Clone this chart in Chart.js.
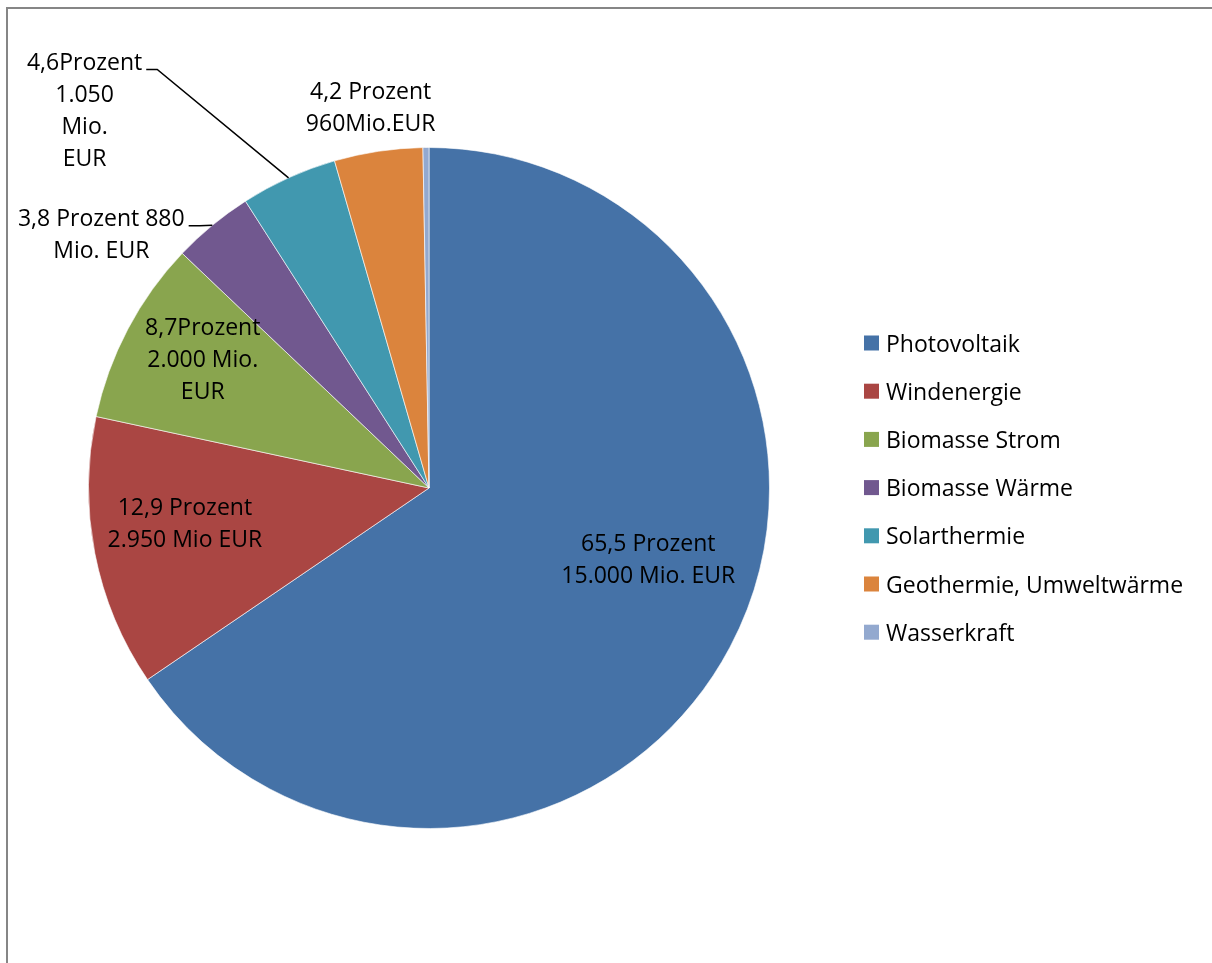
<!DOCTYPE html>
<html>
<head>
<meta charset="utf-8">
<script src="https://cdn.jsdelivr.net/npm/chart.js@4"></script>
<style>
    html, body { margin: 0; padding: 0; background: #fff; }
    #wrap { width: 1212px; height: 963px; }
</style>
</head>
<body>
<div id="wrap"><canvas id="pieChart" width="1212" height="963"></canvas></div>
<script>
// Data (Mio. EUR)
const categories = ['Photovoltaik', 'Windenergie', 'Biomasse Strom', 'Biomasse Wärme', 'Solarthermie', 'Geothermie, Umweltwärme', 'Wasserkraft'];
const investments = [15000, 2950, 2000, 880, 1050, 960, 65];
const sliceLabels = [
    ['65,5 Prozent', '15.000 Mio. EUR'],
    ['12,9 Prozent', '2.950 Mio EUR'],
    ['8,7Prozent', '2.000 Mio.', 'EUR'],
    ['3,8 Prozent 880', 'Mio. EUR'],
    ['4,6Prozent', '1.050', 'Mio.', 'EUR'],
    ['4,2 Prozent', '960Mio.EUR'],
    []
];
const colors = ['#4572A7', '#AA4643', '#89A54E', '#71588F', '#4198AF', '#DB843D', '#93A9CF'];

// label placement: angle (deg, clockwise from top) and distance in pie radii
const labelAngle = [107.7, 262, 299.7, 307.8, 317.7, 351.3, 0];
const labelDist = [0.676, 0.724, 0.765, 1.218, 1.503, 1.133, 0];
const hasLeader = [false, false, false, true, true, false, false];

const FONT = '23px "Open Sans"';
const LINE_H = 32;
const TEXT_SHIFT = 2; // Open Sans sits a bit high with 'middle' baseline

const frameAndLabels = {
    id: 'frameAndLabels',
    beforeDraw(chart) {
        const ctx = chart.ctx;
        ctx.save();
        ctx.fillStyle = '#fff';
        ctx.fillRect(0, 0, chart.width, chart.height);
        ctx.fillStyle = '#868686';
        ctx.fillRect(6, 7, chart.width - 6, 2);
        ctx.fillRect(6, 7, 2, chart.height - 7);
        ctx.restore();
    },
    afterDraw(chart) {
        const ctx = chart.ctx;
        const arcs = chart.getDatasetMeta(0).data;
        const cx = arcs[0].x, cy = arcs[0].y, r = arcs[0].outerRadius;
        ctx.save();
        ctx.font = FONT;
        ctx.fillStyle = '#000';
        ctx.textAlign = 'center';
        ctx.textBaseline = 'middle';
        sliceLabels.forEach((lines, i) => {
            if (!lines.length) return;
            const a = labelAngle[i] * Math.PI / 180;
            const bx = cx + Math.sin(a) * r * labelDist[i];
            const by = cy - Math.cos(a) * r * labelDist[i];
            const y0 = by - (lines.length - 1) * LINE_H / 2;
            lines.forEach((t, k) => ctx.fillText(t, bx, y0 + k * LINE_H + TEXT_SHIFT));
            if (hasLeader[i]) {
                const arc = arcs[i];
                const mid = (arc.startAngle + arc.endAngle) / 2;
                const ex = cx + Math.cos(mid) * r;
                const ey = cy + Math.sin(mid) * r;
                const sx = bx + ctx.measureText(lines[0]).width / 2 + 4;
                const sy = y0 + 8;
                ctx.strokeStyle = '#000';
                ctx.lineWidth = 1.5;
                ctx.beginPath();
                ctx.moveTo(sx, sy);
                ctx.lineTo(sx + 11, sy);
                ctx.lineTo(ex, ey);
                ctx.stroke();
            }
        });
        // legend
        const lx = 864, ly = 343, step = 48.2;
        categories.forEach((c, i) => {
            const y = ly + i * step;
            ctx.fillStyle = colors[i];
            ctx.fillRect(lx, y - 7.5, 15, 15);
            ctx.fillStyle = '#000';
            ctx.textAlign = 'left';
            ctx.fillText(c, lx + 22, y + TEXT_SHIFT);
        });
        ctx.restore();
    }
};

document.addEventListener('DOMContentLoaded', () => {
    const ctx = document.getElementById('pieChart').getContext('2d');
    new Chart(ctx, {
        type: 'pie',
        data: {
            labels: categories,
            datasets: [{
                data: investments,
                backgroundColor: colors,
                borderColor: 'rgba(255,255,255,0.6)',
                borderWidth: 1
            }]
        },
        options: {
            responsive: false,
            animation: false,
            layout: { padding: { left: 88, right: 442, top: 147, bottom: 134 } },
            plugins: {
                legend: { display: false },
                tooltip: { enabled: false }
            }
        },
        plugins: [frameAndLabels]
    });
});
</script>
</body>
</html>
